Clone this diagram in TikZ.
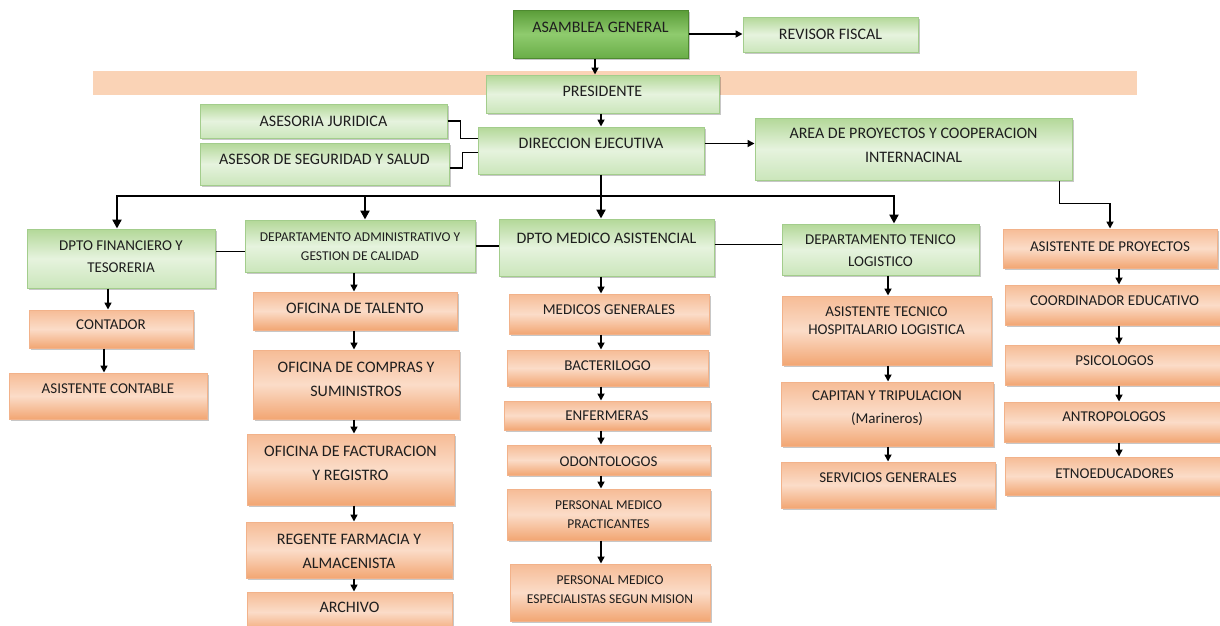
\documentclass[tikz,border=0pt]{standalone}
\usepackage{fontspec}
\setmainfont{Carlito}
\usetikzlibrary{arrows.meta,calc,shadows}
\definecolor{gT}{HTML}{B3D898}
\definecolor{gM}{HTML}{E6F3DE}
\definecolor{gB}{HTML}{CBE6BB}
\definecolor{gD}{HTML}{A3CD8C}
\definecolor{dT}{HTML}{5A9C38}
\definecolor{dM}{HTML}{8FCB6E}
\definecolor{dB}{HTML}{6AAE48}
\definecolor{dD}{HTML}{4E8A30}
\definecolor{oT}{HTML}{F6BC96}
\definecolor{oM}{HTML}{FBDCC8}
\definecolor{oB}{HTML}{F2A673}
\definecolor{oD}{HTML}{F2B28A}
\definecolor{bandc}{HTML}{FAD3B6}
\definecolor{txt}{HTML}{1E1E1E}
\newcommand\fL{\fontsize{16}{24}\selectfont}
\newcommand\fM{\fontsize{15}{22.5}\selectfont}
\newcommand\fS{\fontsize{13.5}{19}\selectfont}
\newcommand\fT{\fontsize{15}{18}\selectfont}
% name, style, font, x1, y1, x2, y2, raise, text
\newcommand\ob[9]{%
  \node[#2, minimum width={(#6-#4)*1pt}, minimum height={(#7-#5)*1pt},
        label={[lbl,font=#3,yshift=#8pt]center:{#9}}] (#1) at ({(#4+#6)/2},{(#5+#7)/2}) {};}
\begin{document}
\begin{tikzpicture}[x=1pt,y=-1pt,
  boxbase/.style={rectangle, inner sep=0pt, line width=1pt,
     drop shadow={shadow xshift=1.5pt, shadow yshift=-2pt, fill=black, opacity=0.22}},
  gbox/.style={boxbase, draw=gD, top color=gT, bottom color=gB, middle color=gM},
  dbox/.style={boxbase, draw=dD, top color=dT, bottom color=dB, middle color=dM},
  obox/.style={boxbase, draw=oD, top color=oT, bottom color=oB, middle color=oM},
  lbl/.style={align=center, inner sep=0pt, text=txt},
  ln/.style={line width=1.8pt},
  arr/.style={line width=1.6pt, -{Triangle[length=7pt,width=7pt]}},
  busln/.style={line width=2.8pt},
  busarr/.style={line width=2.8pt, -{Triangle[length=9pt,width=9pt]}}]
\path[use as bounding box] (0,0) rectangle (1220,625);
\fill[bandc] (93,71) rectangle (1137,95);
% top
\ob{asm}{dbox}{\fL}{513}{10}{688}{58}{7}{ASAMBLEA GENERAL}
\ob{rev}{gbox}{\fL}{743}{17}{918}{52}{0}{REVISOR FISCAL}
\ob{pres}{gbox}{\fL}{486}{75}{719}{113}{3}{PRESIDENTE}
\ob{jur}{gbox}{\fL}{200}{104}{447}{138}{0}{ASESORIA JURIDICA}
\ob{seg}{gbox}{\fL}{200}{143}{449}{185}{5}{ASESOR DE SEGURIDAD Y SALUD}
\ob{dir}{gbox}{\fL}{478}{127}{704}{174}{7}{DIRECCION EJECUTIVA}
\ob{area}{gbox}{\fL}{755}{118}{1072}{180}{4}{AREA DE PROYECTOS Y COOPERACION\\INTERNACINAL}
% departments
\ob{fin}{gbox}{\fM}{27}{229}{215}{288}{2}{DPTO FINANCIERO Y\\TESORERIA}
\ob{adm}{gbox}{\fS}{245}{220}{475}{272}{-1}{DEPARTAMENTO ADMINISTRATIVO Y\\GESTION DE CALIDAD}
\ob{med}{gbox}{\fL}{499}{219}{714}{276}{9}{DPTO MEDICO ASISTENCIAL}
\ob{tec}{gbox}{\fM}{782}{224}{979}{275}{-1}{DEPARTAMENTO TENICO\\LOGISTICO}
\ob{ap}{obox}{\fM}{1003}{229}{1217}{268}{2}{ASISTENTE DE PROYECTOS}
% column 1
\ob{cont}{obox}{\fM}{29}{310}{193}{348}{4}{CONTADOR}
\ob{acont}{obox}{\fM}{9}{373}{207}{419}{7}{ASISTENTE CONTABLE}
% column 2
\ob{tal}{obox}{\fL}{253}{292}{457}{330}{3}{OFICINA DE TALENTO}
\ob{comp}{obox}{\fL}{253}{350}{459}{419}{5}{OFICINA DE COMPRAS Y\\SUMINISTROS}
\ob{fac}{obox}{\fL}{247}{434}{454}{505}{6}{OFICINA DE FACTURACION\\Y REGISTRO}
\ob{reg}{obox}{\fL}{246}{522}{452}{578}{-1}{REGENTE FARMACIA Y\\ALMACENISTA}
\ob{arch}{obox}{\fL}{247}{592}{452}{632}{5}{ARCHIVO}
% column 3
\ob{mg}{obox}{\fM}{509}{294}{709}{334}{4}{MEDICOS GENERALES}
\ob{bac}{obox}{\fM}{507}{350}{708}{386}{2}{BACTERILOGO}
\ob{enf}{obox}{\fM}{504}{401}{710}{430}{0}{ENFERMERAS}
\ob{odo}{obox}{\fM}{507}{445}{710}{475}{-2}{ODONTOLOGOS}
\ob{prac}{obox}{\fS}{507}{489}{710}{540}{0}{PERSONAL MEDICO\\PRACTICANTES}
\ob{esp}{obox}{\fS}{510}{564}{710}{621}{3}{PERSONAL MEDICO\\ESPECIALISTAS SEGUN MISION}
% column 4
\ob{at}{obox}{\fT}{782}{296}{991}{365}{10}{ASISTENTE TECNICO\\HOSPITALARIO LOGISTICA}
\ob{cap}{obox}{\fM}{781}{382}{993}{446}{6}{CAPITAN Y TRIPULACION\\(Marineros)}
\ob{serv}{obox}{\fM}{781}{462}{995}{508}{7}{SERVICIOS GENERALES}
% column 5
\ob{coord}{obox}{\fM}{1005}{285}{1224}{325}{4}{COORDINADOR EDUCATIVO}
\ob{psi}{obox}{\fM}{1005}{345}{1224}{385}{4}{PSICOLOGOS}
\ob{antro}{obox}{\fM}{1004}{402}{1224}{442}{5}{ANTROPOLOGOS}
\ob{etno}{obox}{\fM}{1005}{457}{1224}{495}{2}{ETNOEDUCADORES}
% column guide coordinates
\coordinate (ka) at (595,0);
\coordinate (k1) at (108,0);
\coordinate (k1b) at (104,0);
\coordinate (k2) at (354,0);
\coordinate (k3) at (601,0);
\coordinate (k4) at (888,0);
\coordinate (k5) at (1119,0);
\coordinate (b1) at (117,0);
\coordinate (b2) at (365,0);
\coordinate (b4) at (894,0);
\coordinate (bus) at (601,196);
% top connectors
\draw[arr] (asm.east) -- (asm.east -| rev.west);
\draw[arr] (ka |- asm.south) -- (ka |- pres.north);
\draw[arr] (k3 |- pres.south) -- (k3 |- dir.north);
\draw[ln] (jur.east) -- ++(13,0) |- ($(dir.west)+(0,-12)$);
\draw[ln] ($(seg.east)+(0,4)$) -- ++(13,0) |- ($(dir.west)+(0,2)$);
\draw[arr] ($(dir.east)+(0,-7)$) coordinate (d1) -- (d1 -| area.west);
\draw[arr] ($(area.south east)+(-13,0)$) -- ++(0,23) -| (ap.north);
% bus
\draw[busln] (k3 |- dir.south) -- (bus);
\draw[busarr] (bus) -| (b1 |- fin.north);
\draw[busarr] (bus) -| (b2 |- adm.north);
\draw[busarr] (bus) -- (k3 |- med.north);
\draw[busarr] (bus) -| (b4 |- tec.north);
% links between departments
\draw[ln] ($(fin.east)+(0,-7)$) coordinate (l1) -- (l1 -| adm.west);
\draw[ln] (adm.east) -- (adm.east -| med.west);
\draw[ln] ($(med.east)+(0,-3)$) coordinate (l3) -- (l3 -| tec.west);
% column arrows
\draw[arr] (k1 |- fin.south) -- (k1 |- cont.north);
\draw[arr] (k1b |- cont.south) -- (k1b |- acont.north);
\foreach \a/\b in {adm/tal,tal/comp,comp/fac,fac/reg,reg/arch}
  \draw[arr] (k2 |- \a.south) -- (k2 |- \b.north);
\foreach \a/\b in {med/mg,mg/bac,bac/enf,enf/odo,odo/prac,prac/esp}
  \draw[arr] (k3 |- \a.south) -- (k3 |- \b.north);
\foreach \a/\b in {tec/at,at/cap,cap/serv}
  \draw[arr] (k4 |- \a.south) -- (k4 |- \b.north);
\foreach \a/\b in {ap/coord,coord/psi,psi/antro,antro/etno}
  \draw[arr] (k5 |- \a.south) -- (k5 |- \b.north);
\end{tikzpicture}
\end{document}
